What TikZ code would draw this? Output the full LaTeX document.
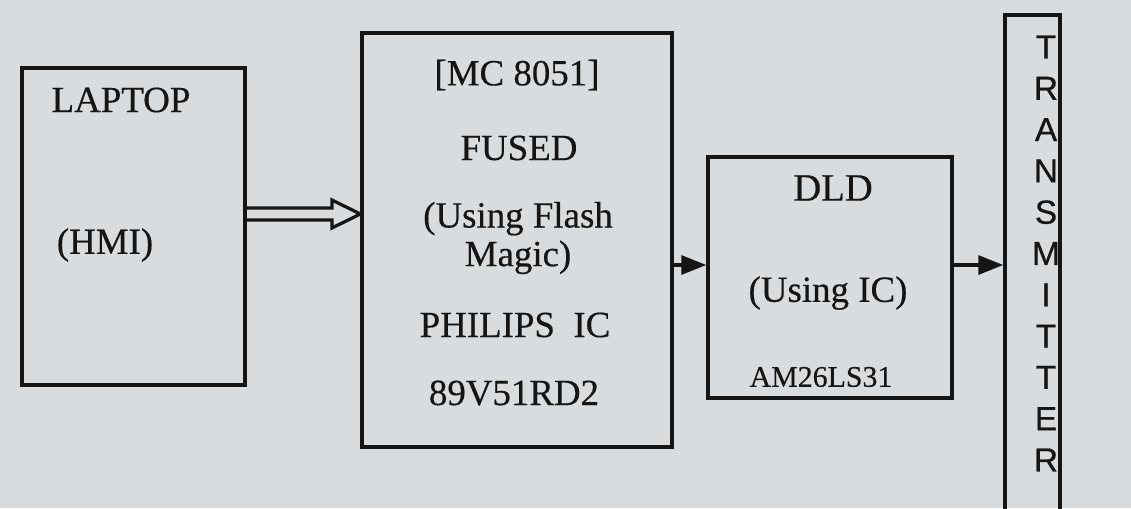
\documentclass[tikz,border=0pt]{standalone}
\usepackage{fontspec}
\setmainfont{Liberation Serif}[FakeBold=0.4]
\newfontfamily\txfont{Liberation Sans}[FakeBold=0.6]
\usetikzlibrary{arrows.meta,calc}
\definecolor{paper}{HTML}{D8DCDF}
\definecolor{ink}{HTML}{151515}
\begin{document}
\begin{tikzpicture}[x=0.02cm,y=-0.02cm,
  blockbox/.style={draw=ink,line width=0.07cm,minimum width=#1,inner sep=0pt,fill=none},
  lbl/.style={text=ink,inner sep=0pt,font=\fontsize{21}{25}\selectfont},
  txl/.style={text=ink,inner sep=0pt,font=\txfont\fontsize{19}{22}\selectfont},
  conn/.style={draw=ink,line width=0.065cm},
  solidhead/.style={-{Triangle[length=0.5cm,width=0.38cm]}}]
\fill[paper] (0,0) rectangle (1131,508);
\useasboundingbox (0,0) rectangle (1131,508);
\clip (0,0) rectangle (1131,508);
% boxes
\node[blockbox=4.46cm,minimum height=6.34cm] (lap) at (133.5,226.5) {};
\node[blockbox=6.2cm,minimum height=8.28cm] (mc) at (517,240) {};
\node[blockbox=4.88cm,minimum height=4.82cm] (dld) at (830,277.5) {};
\node[blockbox=1.1cm,minimum height=10.6cm] (tx) at (1032.5,280) {};
% laptop texts
\node[lbl] (t1) at (121,100) {LAPTOP};
\node[lbl] (t2) at (105,245) {(HMI)};
% mc texts
\node[lbl] (m1) at (517,75) {[MC 8051]};
\node[lbl] (m2) at (519,148) {FUSED};
\node[lbl,align=center] (m3) at (518,238) {(Using Flash\\[-3pt]Magic)};
\node[lbl] (m4) at (515,325) {PHILIPS\ \ IC};
\node[lbl] (m5) at (514,393) {89V51RD2};
% dld texts
\node[lbl,font=\fontsize{22}{26}\selectfont] (d1) at (833,188) {DLD};
\node[lbl] (d2) at (828,293) {(Using IC)};
\node[lbl,font=\fontsize{17}{20}\selectfont] (d3) at (821,377) {AM26LS31};
% transmitter letters
\foreach \ch [count=\i] in {T,R,A,N,S,M,I,T,T,E,R} {
  \node[txl] (x\i) at (1046,{47+41.3*(\i-1)}) {\ch};
}
% connectors
\coordinate (ya) at (0,208);
\coordinate (yb) at (0,220);
\coordinate (yt) at (0,214);
\coordinate (ym) at (0,265);
\draw[conn,line join=miter] (lap.east |- ya) -- (332,208) -- (332,200) -- (mc.west |- yt)
  -- (332,228) -- (332,220) -- (lap.east |- yb);
\draw[conn,solidhead] (mc.east |- ym) -- (dld.west |- ym);
\draw[conn,solidhead] (dld.east |- ym) -- (tx.west |- ym);
\end{tikzpicture}
\end{document}
